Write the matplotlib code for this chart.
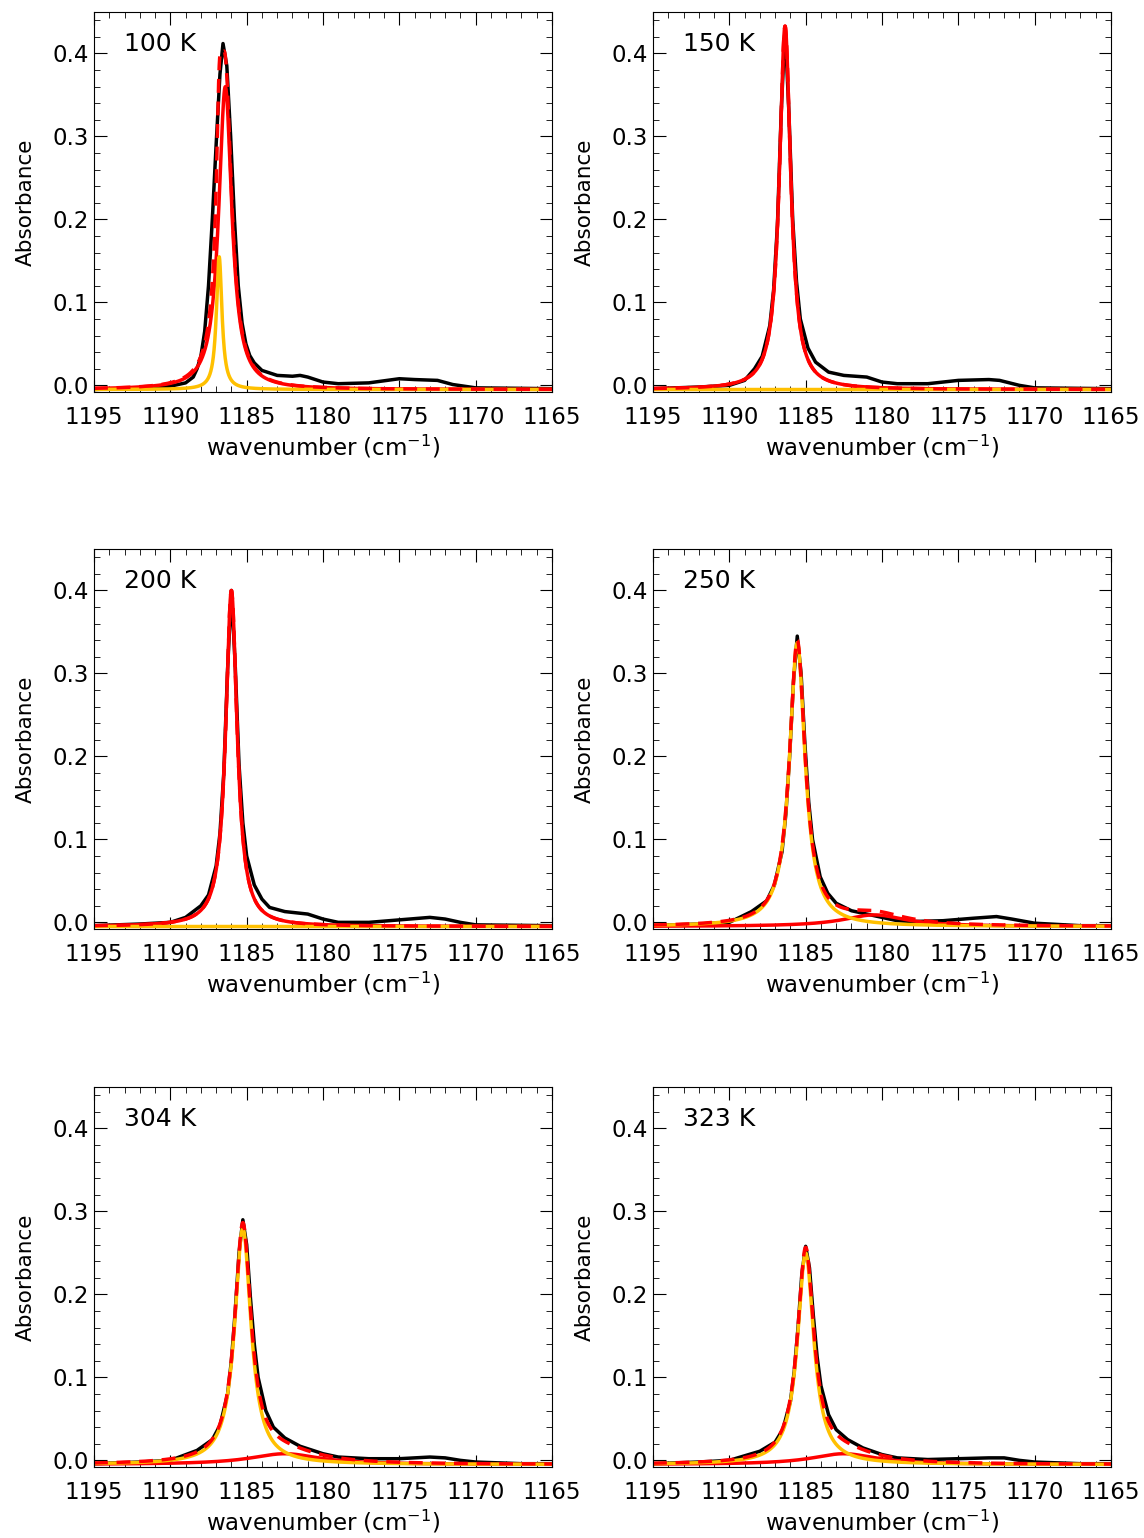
import numpy as np
import matplotlib.pyplot as plt
from matplotlib.ticker import MultipleLocator

# ---------------- data ----------------
temps = ['100 K', '150 K', '200 K', '250 K', '304 K', '323 K']

spec_x = [
    [1195, 1192, 1190, 1189, 1188.5, 1188.25, 1188, 1187.75, 1187.5, 1187.25, 1187, 1186.75, 1186.55, 1186.3,
     1186.05, 1185.8, 1185.55, 1185.3, 1185.05, 1184.8, 1184.5, 1184, 1183, 1182, 1181.5, 1181, 1180, 1179,
     1177, 1175, 1174, 1172.5, 1171.5, 1170, 1165],
    [1195, 1192, 1190, 1189, 1188.35, 1187.85, 1187.35, 1187.1, 1186.85, 1186.6, 1186.35, 1186.1, 1185.85,
     1185.6, 1185.35, 1184.85, 1184.35, 1183.5, 1182.5, 1181, 1180, 1179, 1177, 1175, 1173, 1172.3, 1171,
     1170, 1165],
    [1195, 1192, 1190, 1189, 1188, 1187.5, 1187, 1186.75, 1186.5, 1186.25, 1186.0, 1185.75, 1185.5, 1185.25,
     1185, 1184.5, 1184, 1183.5, 1182.5, 1181, 1180, 1179, 1177, 1175, 1173, 1172, 1171, 1170, 1165],
    [1195, 1192, 1190, 1188.55, 1187.55, 1187.05, 1186.55, 1186.3, 1186.05, 1185.8, 1185.55, 1185.3, 1185.05,
     1184.8, 1184.55, 1184.05, 1183.55, 1183, 1182, 1181, 1180, 1179, 1178, 1176, 1174, 1172.5, 1171.5, 1170,
     1167, 1165],
    [1195, 1192, 1190, 1188.25, 1187.25, 1186.75, 1186.25, 1186, 1185.75, 1185.5, 1185.25, 1185, 1184.75,
     1184.5, 1184.25, 1183.75, 1183.25, 1182.5, 1181.5, 1180, 1179, 1177, 1175, 1173, 1172, 1171, 1170, 1167,
     1165],
    [1195, 1192, 1190, 1188, 1187, 1186.5, 1186, 1185.75, 1185.5, 1185.25, 1185, 1184.75, 1184.5, 1184.25,
     1184, 1183.5, 1183, 1182.25, 1181.25, 1180, 1179, 1177, 1175, 1173, 1172, 1171, 1170, 1167, 1165],
]
spec_y = [
    [-0.005, -0.003, -0.001, 0.003, 0.010, 0.020, 0.035, 0.065, 0.120, 0.200, 0.290, 0.375, 0.412, 0.385,
     0.300, 0.200, 0.120, 0.075, 0.050, 0.036, 0.027, 0.018, 0.012, 0.011, 0.012, 0.010, 0.004, 0.002,
     0.003, 0.008, 0.007, 0.006, 0.001, -0.003, -0.004],
    [-0.004, -0.002, 0.000, 0.006, 0.020, 0.035, 0.072, 0.115, 0.193, 0.330, 0.432, 0.330, 0.200,
     0.125, 0.080, 0.045, 0.028, 0.016, 0.012, 0.010, 0.004, 0.002, 0.002, 0.006, 0.007, 0.006, 0.000,
     -0.003, -0.004],
    [-0.004, -0.002, 0.000, 0.006, 0.020, 0.033, 0.068, 0.107, 0.180, 0.305, 0.400, 0.310, 0.190, 0.120,
     0.080, 0.045, 0.028, 0.018, 0.013, 0.010, 0.004, 0.000, 0.000, 0.003, 0.006, 0.004, 0.000, -0.003, -0.004],
    [-0.004, -0.002, 0.000, 0.013, 0.026, 0.045, 0.085, 0.130, 0.200, 0.290, 0.345, 0.300, 0.215,
     0.145, 0.100, 0.055, 0.035, 0.023, 0.014, 0.010, 0.006, 0.002, 0.001, 0.002, 0.005, 0.007, 0.004, -0.001,
     -0.004, -0.004],
    [-0.004, -0.002, 0.000, 0.012, 0.025, 0.042, 0.080, 0.120, 0.180, 0.250, 0.290, 0.260, 0.195,
     0.140, 0.100, 0.060, 0.040, 0.027, 0.017, 0.008, 0.004, 0.002, 0.002, 0.004, 0.003, 0.000, -0.002, -0.004,
     -0.004],
    [-0.004, -0.002, 0.000, 0.011, 0.022, 0.037, 0.071, 0.107, 0.160, 0.225, 0.258, 0.232, 0.175, 0.125,
     0.090, 0.055, 0.037, 0.025, 0.015, 0.007, 0.003, 0.001, 0.002, 0.003, 0.003, 0.000, -0.002, -0.004, -0.004],
]

# fitted Lorentzian components: (centre, amplitude, hwhm)
red_comp = [(1186.4, 0.365, 0.52), (1186.35, 0.438, 0.45), (1186.0, 0.405, 0.45),
            (1180.5, 0.014, 2.5), (1182.5, 0.013, 2.8), (1182.5, 0.013, 2.6)]
yel_comp = [(1186.8, 0.160, 0.22), (1186.3, 0.0, 0.5), (1186.0, 0.0, 0.5),
            (1185.55, 0.342, 0.62), (1185.25, 0.285, 0.65), (1185.0, 0.255, 0.65)]
baseline = -0.005

# ---------------- plot ----------------
def lor(x, c, a, w):
    return a * w**2 / ((x - c)**2 + w**2)

xx = np.linspace(1195, 1165, 3000)
fig = plt.figure(figsize=(11.44, 15.38), dpi=100)
W, H = 1144, 1538
lefts = [94, 653]
tops = [12, 549, 1087]
pw, ph = 458, 380
fs = 16.5
for i in range(6):
    r, c = divmod(i, 2)
    ax = fig.add_axes([lefts[c] / W, 1 - (tops[r] + ph) / H, pw / W, ph / H])
    yr = baseline + lor(xx, *red_comp[i])
    yy = baseline + lor(xx, *yel_comp[i])
    tot = yr + lor(xx, *yel_comp[i])
    ax.plot(spec_x[i], spec_y[i], color='black', lw=2.5)
    ax.plot(xx, yr, color='red', lw=2.5)
    ax.plot(xx, yy, color='#ffc000', lw=2.5)
    ax.plot(xx, tot, color='red', lw=2.5, ls=(0, (4, 2.5)))
    ax.set_xlim(1195, 1165)
    ax.set_ylim(-0.008, 0.45)
    ax.xaxis.set_major_locator(MultipleLocator(5))
    ax.xaxis.set_minor_locator(MultipleLocator(1))
    ax.yaxis.set_minor_locator(MultipleLocator(0.02))
    ax.set_yticks([0, 0.1, 0.2, 0.3, 0.4])
    ax.set_yticklabels(['0.0', '0.1', '0.2', '0.3', '0.4'])
    ax.tick_params(which='both', direction='in', top=True, right=True, labelsize=fs)
    ax.tick_params(which='major', length=9)
    ax.tick_params(which='minor', length=4)
    ax.tick_params(axis='x', pad=10)
    ax.set_xlabel('wavenumber (cm$^{-1}$)', fontsize=fs, labelpad=3)
    ax.set_ylabel('Absorbance', fontsize=fs - 1, labelpad=12)
    ax.text(0.065, 0.915, temps[i], transform=ax.transAxes, fontsize=18, va='center')

plt.savefig('out.png', dpi=100)
